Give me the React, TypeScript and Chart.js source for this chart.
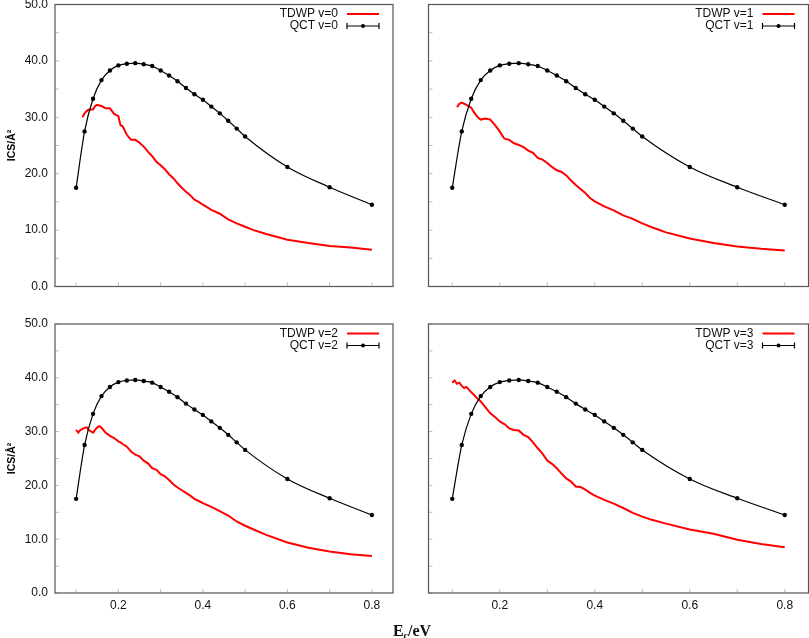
import { useEffect, useRef } from "react";
import { Chart, registerables } from "chart.js";

Chart.register(...registerables);

// QCT cross sections (same curve in every panel)
const qctEnergy = [
  0.10, 0.12, 0.14, 0.16, 0.18, 0.20, 0.22, 0.24, 0.26, 0.28, 0.30, 0.32,
  0.34, 0.36, 0.38, 0.40, 0.42, 0.44, 0.46, 0.48, 0.50, 0.60, 0.70, 0.80,
];
const qctIcs = [
  17.5, 27.5, 33.3, 36.6, 38.3, 39.2, 39.5, 39.6, 39.4, 39.1, 38.3, 37.4,
  36.4, 35.2, 34.1, 33.1, 31.9, 30.7, 29.4, 28.0, 26.6, 21.2, 17.6, 14.5,
];

// TDWP energy grid
const tdwpEnergy = [
  0.100, 0.105, 0.110, 0.115, 0.120, 0.125, 0.130, 0.140, 0.145, 0.150, 0.155,
  0.160, 0.170, 0.180, 0.190, 0.200, 0.205, 0.21, 0.22, 0.23, 0.24, 0.25, 0.26,
  0.27, 0.28, 0.29, 0.30, 0.31, 0.32, 0.33, 0.34, 0.35, 0.36, 0.37, 0.38, 0.39,
  0.40, 0.42, 0.44, 0.46, 0.48, 0.50, 0.52, 0.55, 0.60, 0.65, 0.70, 0.75, 0.80,
];
const tdwpV0 = [
  null, null, null, 30.0, 30.7, 31.1, 31.4, 31.4, 32.0, 32.2, 32.1,
  32.0, 31.6, 31.6, 30.6, 30.2, 28.6, 28.4, 26.9, 26.0, 26.0, 25.5, 24.8,
  23.9, 23.1, 22.1, 21.5, 20.8, 19.9, 19.2, 18.3, 17.5, 16.8, 16.2, 15.4, 15.0,
  14.5, 13.6, 12.9, 11.9, 11.2, 10.6, 10.0, 9.3, 8.3, 7.7, 7.2, 6.9, 6.5,
];
const tdwpV1 = [
  null, null, 31.8, 32.4, 32.6, 32.4, 32.2, 31.7, 31.0, 30.4, 29.9,
  29.6, 29.8, 29.6, 28.6, 27.5, 26.8, 26.2, 26.0, 25.4, 25.1, 24.7, 24.1,
  23.7, 22.8, 22.5, 21.9, 21.2, 20.6, 20.3, 19.7, 18.8, 18.0, 17.3, 16.6, 15.7,
  15.1, 14.2, 13.5, 12.6, 12.0, 11.2, 10.5, 9.6, 8.5, 7.7, 7.1, 6.7, 6.4,
];
const tdwpV2 = [
  30.3, 29.8, 30.3, 30.5, 30.7, 30.8, 30.3, 29.8, 30.3, 30.8, 31.0,
  30.7, 29.8, 29.2, 28.8, 28.2, 28.0, 27.7, 27.2, 26.3, 25.7, 25.4, 24.6,
  24.1, 23.2, 22.9, 22.1, 21.7, 21.0, 20.2, 19.6, 19.1, 18.6, 18.1, 17.5, 17.1,
  16.7, 16.0, 15.2, 14.4, 13.3, 12.5, 11.8, 10.8, 9.4, 8.4, 7.7, 7.2, 6.9,
];
const tdwpV3 = [
  39.1, 39.5, 38.9, 39.1, 38.5, 38.1, 38.3, 37.3, 36.9, 36.4, 36.0,
  35.6, 34.5, 33.4, 32.7, 31.9, 31.6, 31.4, 30.6, 30.3, 30.2, 29.4, 29.0,
  28.0, 26.9, 25.9, 24.6, 24.0, 23.2, 22.2, 21.3, 20.7, 19.8, 19.7, 19.2, 18.6,
  18.1, 17.3, 16.6, 15.8, 14.9, 14.2, 13.6, 12.9, 11.8, 11.0, 9.9, 9.1, 8.5,
];

const xTickValues = [0.1, 0.2, 0.3, 0.4, 0.5, 0.6, 0.7, 0.8];
const xLabelValues = [0.2, 0.4, 0.6, 0.8];
const yTickValues = [0, 10, 20, 30, 40, 50];
const yMinorTicks = [0, 5, 10, 15, 20, 25, 30, 35, 40, 45, 50];

const SANS = "'Liberation Sans', Arial, Helvetica, sans-serif";

const panelDecor = {
  id: "panelDecor",
  afterDraw(chart: any, _args: any, opts: any) {
    const { ctx, chartArea: a, scales } = chart;
    ctx.save();
    // small inward ticks
    ctx.strokeStyle = "#bbb";
    ctx.lineWidth = 1;
    ctx.beginPath();
    for (const v of xTickValues) {
      const px = scales.x.getPixelForValue(v);
      ctx.moveTo(px, a.bottom);
      ctx.lineTo(px, a.bottom - 4);
    }
    for (const v of yMinorTicks) {
      const py = scales.y.getPixelForValue(v);
      ctx.moveTo(a.left, py);
      ctx.lineTo(a.left + 4, py);
    }
    ctx.stroke();

    // frame
    ctx.strokeStyle = "#555";
    ctx.lineWidth = 1.2;
    ctx.strokeRect(a.left, a.top, a.right - a.left, a.bottom - a.top);

    // legend
    ctx.font = `12px ${SANS}`;
    ctx.fillStyle = "#111";
    ctx.textAlign = "right";
    ctx.textBaseline = "middle";
    const tx = a.right - 55;
    const y1 = a.top + 9.5;
    const y2 = a.top + 21.5;
    ctx.fillText(`TDWP v=${opts.v}`, tx, y1);
    ctx.fillText(`QCT v=${opts.v}`, tx, y2);
    const s0 = a.right - 46;
    const s1 = a.right - 14;
    ctx.strokeStyle = "#f00";
    ctx.lineWidth = 2;
    ctx.beginPath();
    ctx.moveTo(s0, y1);
    ctx.lineTo(s1, y1);
    ctx.stroke();
    ctx.strokeStyle = "#000";
    ctx.lineWidth = 1.2;
    ctx.beginPath();
    ctx.moveTo(s0, y2);
    ctx.lineTo(s1, y2);
    ctx.moveTo(s0, y2 - 3);
    ctx.lineTo(s0, y2 + 3);
    ctx.moveTo(s1, y2 - 3);
    ctx.lineTo(s1, y2 + 3);
    ctx.stroke();
    ctx.fillStyle = "#000";
    ctx.beginPath();
    ctx.arc((s0 + s1) / 2, y2, 2, 0, Math.PI * 2);
    ctx.fill();

    // y title
    if (opts.showY) {
      ctx.translate(12, (a.top + a.bottom) / 2);
      ctx.rotate(-Math.PI / 2);
      ctx.textAlign = "center";
      ctx.font = `bold 10.5px ${SANS}`;
      ctx.fillText("ICS/Å²", 0, 0);
    }
    ctx.restore();
  },
};

type Geo = {
  left: number;
  top: number;
  w: number;
  h: number;
  yW: number;
  xH: number;
  padTop: number;
  padRight: number;
};

function Panel({
  v,
  tdwp,
  geo,
  showX,
  showY,
}: {
  v: number;
  tdwp: (number | null)[];
  geo: Geo;
  showX: boolean;
  showY: boolean;
}) {
  const canvasRef = useRef<HTMLCanvasElement>(null);

  useEffect(() => {
    const canvas = canvasRef.current;
    if (!canvas) return;
    Chart.getChart(canvas)?.destroy();

    const tdwpPoints = tdwpEnergy
      .map((x, i) => ({ x, y: tdwp[i] }))
      .filter((p) => p.y !== null);
    const qctPoints = qctEnergy.map((x, i) => ({ x, y: qctIcs[i] }));

    const chart = new Chart(canvas, {
      type: "line",
      data: {
        datasets: [
          {
            label: `QCT v=${v}`,
            data: qctPoints as any,
            borderColor: "#000",
            backgroundColor: "#000",
            borderWidth: 1.2,
            pointRadius: 2.2,
            pointBackgroundColor: "#000",
            pointBorderWidth: 0,
            cubicInterpolationMode: "monotone",
          },
          {
            label: `TDWP v=${v}`,
            data: tdwpPoints as any,
            borderColor: "#f00",
            borderWidth: 2,
            pointRadius: 0,
            tension: 0,
          },
        ],
      },
      options: {
        animation: false,
        responsive: true,
        maintainAspectRatio: false,
        layout: {
          autoPadding: false,
          padding: { top: geo.padTop, right: geo.padRight, left: 0, bottom: 0 },
        },
        plugins: {
          legend: { display: false },
          tooltip: { enabled: false },
          panelDecor: { v, showY },
        } as any,
        scales: {
          x: {
            type: "linear",
            min: 0.05,
            max: 0.85,
            grid: { display: false, drawTicks: false },
            border: { display: false },
            afterBuildTicks: (s: any) => {
              s.ticks = xTickValues.map((value) => ({ value }));
            },
            afterFit: (s: any) => {
              s.height = geo.xH;
              s.paddingLeft = 0;
              s.paddingRight = 0;
            },
            ticks: {
              display: showX,
              padding: 5,
              autoSkip: false,
              maxRotation: 0,
              color: "#111",
              font: { family: SANS, size: 12 },
              callback: (val: any) =>
                xLabelValues.some((l) => Math.abs(l - Number(val)) < 1e-6)
                  ? Number(val).toFixed(1)
                  : "",
            },
          },
          y: {
            type: "linear",
            min: 0,
            max: 50,
            grid: { display: false, drawTicks: false },
            border: { display: false },
            afterBuildTicks: (s: any) => {
              s.ticks = yTickValues.map((value) => ({ value }));
            },
            afterFit: (s: any) => {
              s.width = geo.yW;
              s.paddingTop = 0;
              s.paddingBottom = 0;
            },
            ticks: {
              display: showY,
              padding: 7,
              color: "#111",
              font: { family: SANS, size: 12 },
              callback: (val: any) => Number(val).toFixed(1),
            },
          },
        },
      } as any,
      plugins: [panelDecor],
    });

    return () => chart.destroy();
  }, [v, tdwp, geo, showX, showY]);

  return (
    <div
      style={{
        position: "absolute",
        left: geo.left,
        top: geo.top,
        width: geo.w,
        height: geo.h,
      }}
    >
      <canvas ref={canvasRef} aria-label={`ICS versus collision energy, v=${v}`} />
    </div>
  );
}

const geoTL: Geo = { left: 0, top: 0, w: 404, h: 300, yW: 55, xH: 13.5, padTop: 4.5, padRight: 11 };
const geoTR: Geo = { left: 404, top: 0, w: 405, h: 300, yW: 24.5, xH: 13.5, padTop: 4.5, padRight: 0.5 };
const geoBL: Geo = { left: 0, top: 300, w: 404, h: 338, yW: 55, xH: 45, padTop: 24, padRight: 11 };
const geoBR: Geo = { left: 404, top: 300, w: 405, h: 338, yW: 24.5, xH: 45, padTop: 24, padRight: 0.5 };

export default function App() {
  return (
    <div
      style={{
        position: "fixed",
        left: 0,
        top: 0,
        width: 809,
        height: 638,
        background: "#fff",
        overflow: "hidden",
      }}
    >
      <Panel v={0} tdwp={tdwpV0} geo={geoTL} showX={false} showY={true} />
      <Panel v={1} tdwp={tdwpV1} geo={geoTR} showX={false} showY={false} />
      <Panel v={2} tdwp={tdwpV2} geo={geoBL} showX={true} showY={true} />
      <Panel v={3} tdwp={tdwpV3} geo={geoBR} showX={true} showY={false} />
      <div
        style={{
          position: "absolute",
          left: 312,
          top: 621,
          width: 200,
          textAlign: "center",
          fontFamily: "'Liberation Serif', 'DejaVu Serif', serif",
          fontWeight: "bold",
          fontSize: 16,
          lineHeight: "20px",
          color: "#111",
        }}
      >
        E<sub style={{ fontSize: 10, verticalAlign: "-3px" }}>c</sub>/eV
      </div>
    </div>
  );
}
